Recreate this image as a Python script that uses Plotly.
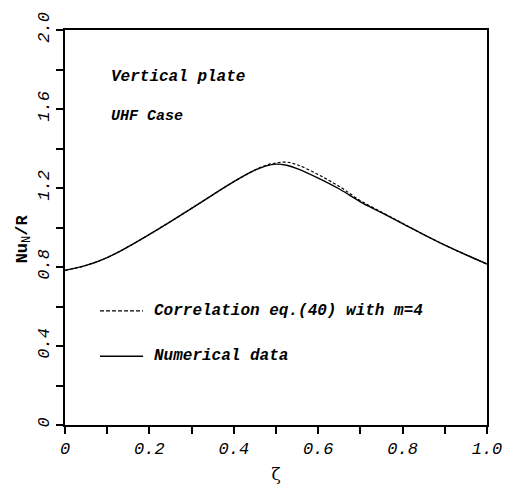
import plotly.graph_objects as go

zeta = [0.0, 0.05, 0.1, 0.15, 0.2, 0.25, 0.3, 0.35, 0.4, 0.45, 0.475, 0.5, 0.525, 0.55,
        0.6, 0.65, 0.7, 0.75, 0.8, 0.85, 0.9, 0.95, 1.0]
numerical = [0.783, 0.808, 0.848, 0.903, 0.965, 1.03, 1.097, 1.165, 1.232, 1.29, 1.311,
             1.321, 1.315, 1.298, 1.25, 1.195, 1.13, 1.075, 1.02, 0.964, 0.911, 0.862, 0.815]
correlation = [0.783, 0.808, 0.848, 0.903, 0.965, 1.03, 1.097, 1.165, 1.232, 1.291, 1.314,
               1.327, 1.331, 1.318, 1.268, 1.208, 1.136, 1.078, 1.021, 0.964, 0.911, 0.862, 0.815]

x_ticks = [0, 0.2, 0.4, 0.6, 0.8, 1.0]
x_labels = ["0", "0.2", "0.4", "0.6", "0.8", "1.0"]
y_ticks = [0, 0.4, 0.8, 1.2, 1.6, 2.0]
y_labels = ["0", "0.4", "0.8", "1.2", "1.6", "2.0"]

legend_names = ["Correlation eq.(40) with m=4", "Numerical data"]

FONT = "Liberation Mono"

fig = go.Figure()
fig.add_trace(go.Scatter(x=zeta, y=correlation, mode="lines", line=dict(color="black", width=1.2, dash="3px,2px"),
                         line_shape="spline", name=legend_names[0], showlegend=False))
fig.add_trace(go.Scatter(x=zeta, y=numerical, mode="lines", line=dict(color="black", width=1.4),
                         line_shape="spline", name=legend_names[1], showlegend=False))

# legend samples (inside plot, in data coordinates)
leg_y = [0.578, 0.348]
leg_dash = ["4px,2px", "solid"]
for yy, dsh, name in zip(leg_y, leg_dash, legend_names):
    fig.add_trace(go.Scatter(x=[0.083, 0.185], y=[yy, yy], mode="lines",
                             line=dict(color="black", width=1.3, dash=dsh), showlegend=False,
                             hoverinfo="skip"))
    fig.add_annotation(x=0.205, y=yy, xref="x", yref="y", text=name, showarrow=False,
                       xanchor="left", yanchor="middle",
                       font=dict(family=FONT, size=16, color="black", style="italic", weight="bold"))

fig.add_annotation(x=0.105, y=1.76, xref="x", yref="y", text="Vertical plate", showarrow=False,
                   xanchor="left", yanchor="middle",
                   font=dict(family=FONT, size=16, color="black", style="italic", weight="bold"))
fig.add_annotation(x=0.105, y=1.56, xref="x", yref="y", text="UHF Case", showarrow=False,
                   xanchor="left", yanchor="middle",
                   font=dict(family=FONT, size=15, color="black", style="italic", weight="bold"))

# y title
fig.add_annotation(x=0, y=0.47, xref="paper", yref="paper", xshift=-41, textangle=-90,
                   text="<b>Nu</b><sub>N</sub><b>/R</b>", showarrow=False,
                   xanchor="center", yanchor="middle",
                   font=dict(family=FONT, size=17, color="black"))

axis_common = dict(showgrid=False, zeroline=False, showline=True, linecolor="black", linewidth=2,
                   mirror=True, ticks="outside", ticklen=7, tickwidth=1.5, tickcolor="black",
                   ticklabeloverflow="allow",
                   tickfont=dict(family=FONT, size=17, color="black", style="italic"))

fig.update_xaxes(range=[0, 1.0], tickvals=x_ticks, ticktext=x_labels,
                 minor=dict(dtick=0.1, tick0=0, ticks="outside", ticklen=7, tickwidth=1.5,
                            tickcolor="black", showgrid=False),
                 title=dict(text="ζ", font=dict(family="DejaVu Serif", size=17, color="black"), standoff=10),
                 **axis_common)
fig.update_yaxes(range=[0, 2.0], tickvals=y_ticks, ticktext=y_labels,
                 minor=dict(dtick=0.2, tick0=0, ticks="outside", ticklen=7, tickwidth=1.5,
                            tickcolor="black", showgrid=False),
                 tickangle=-90, **axis_common)

fig.update_layout(width=514, height=493, margin=dict(l=65, r=27, t=15, b=59),
                  plot_bgcolor="white", paper_bgcolor="white", showlegend=False)

fig.write_html("out.html")
